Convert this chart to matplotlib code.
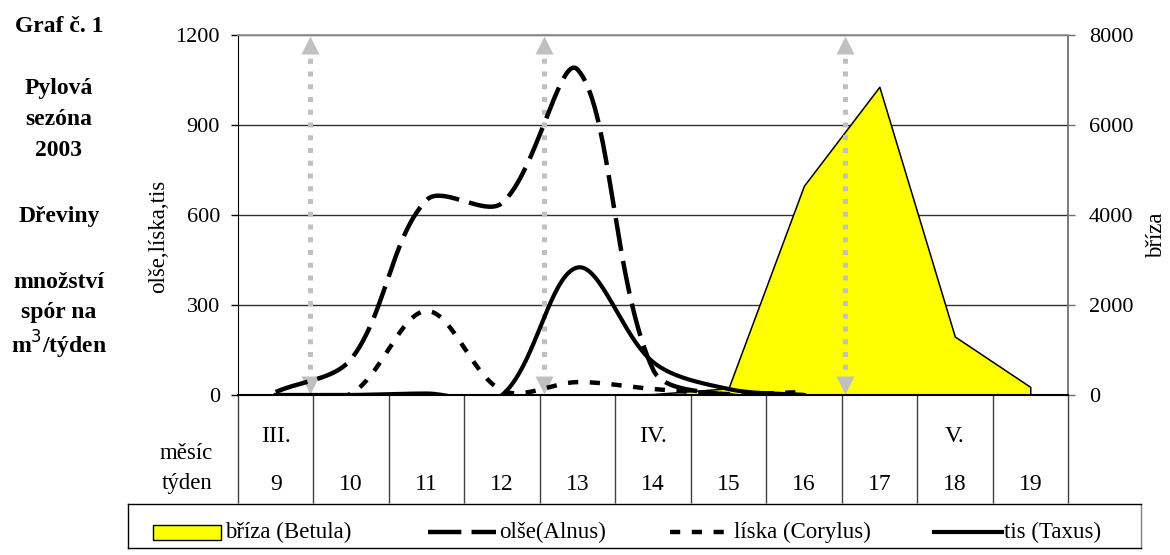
import numpy as np
import matplotlib
matplotlib.use("Agg")
import matplotlib.pyplot as plt
from matplotlib.patches import Rectangle
from matplotlib.lines import Line2D

plt.rcParams['font.family'] = ['Liberation Serif', 'DejaVu Serif']

# weekly pollen counts, weeks 9-19 of 2003
weeks = [9, 10, 11, 12, 13, 14, 15, 16, 17, 18, 19]
months = {0: "III.", 5: "IV.", 9: "V."}
briza = [0, 0, 0, 0, 0, 20, 150, 4650, 6850, 1300, 180]
olse = [10, 120, 650, 640, 1085, 85, 0, 0]
liska = [0, 5, 280, 15, 43, 20, 3, 10]
tis = [0, 0, 5, 0, 425, 110, 20, 0]
arrow_x = [0.45, 3.55, 7.55]

W, H = 1170, 555
fig = plt.figure(figsize=(W / 100, H / 100), dpi=100)

def fx(px):
    return px / W

def fy(py):
    return 1 - py / H

L, R, T, B = 238, 1068, 35, 395
ax2 = fig.add_axes([fx(L), fy(B), fx(R - L), (B - T) / H])
ax = ax2.twinx()
# lines on top of the yellow area
ax2.yaxis.tick_right()
ax.yaxis.tick_left()
ax.set_zorder(ax2.get_zorder() + 1)
ax.patch.set_visible(False)

n = len(weeks)
x = np.arange(n)
for a in (ax, ax2):
    a.set_xlim(-0.5, n - 0.5)
ax.set_ylim(0, 1200)
ax2.set_ylim(0, 8000)
ax.set_yticks(range(0, 1201, 300))
ax2.set_yticks(range(0, 8001, 2000))

# grid from the right axis so it stays under the area
ax2.set_axisbelow(True)
ax2.yaxis.grid(True, color='#303030', lw=1)
ax2.fill_between(x, briza, color='#ffff00', edgecolor='black', lw=1.1, zorder=2)


def smooth(xs, ys, a, n_seg=40):
    """Bezier smoothing of a polyline, control arms weighted by chord length."""
    pts = a.transData.transform(np.column_stack([xs, ys]))
    out = []
    m = len(pts)
    for i in range(m - 1):
        p0 = pts[i - 1] if i > 0 else pts[i]
        p1, p2 = pts[i], pts[i + 1]
        p3 = pts[i + 2] if i + 2 < m else pts[i + 1]
        d01 = np.hypot(*(p1 - p0))
        d12 = np.hypot(*(p2 - p1))
        d23 = np.hypot(*(p3 - p2))
        f1 = d12 / (d01 + d12) if d01 + d12 > 0 else 0.5
        f2 = d12 / (d12 + d23) if d12 + d23 > 0 else 0.5
        c1 = p1 + (p2 - p0) * f1 / 3
        c2 = p2 - (p3 - p1) * f2 / 3
        t = np.linspace(0, 1, n_seg)[:, None]
        seg = ((1 - t) ** 3 * p1 + 3 * (1 - t) ** 2 * t * c1
               + 3 * (1 - t) * t ** 2 * c2 + t ** 3 * p2)
        out.append(seg if i == 0 else seg[1:])
    out = np.vstack(out)
    return a.transData.inverted().transform(out).T


olse_style = dict(color='black', lw=3.2, ls=(0, (7.5, 2.3)), dash_capstyle='butt')
liska_style = dict(color='black', lw=3.2, ls=(0, (2.3, 2.6)), dash_capstyle='butt')
tis_style = dict(color='black', lw=3.0, ls='-')

# dotted double arrows
for xa in arrow_x:
    ax.plot([xa, xa], [45, 1150], color='#c0c0c0', lw=3.6,
            ls=(0, (1.0, 1.55)), dash_capstyle='butt', zorder=3)
    ax.plot([xa], [1168], marker='^', ms=13, color='#c0c0c0', mec='none', zorder=3)
    ax.plot([xa], [32], marker='v', ms=13, color='#c0c0c0', mec='none', zorder=3)

fig.canvas.draw()
for vals, st in ((olse, olse_style), (liska, liska_style), (tis, tis_style)):
    sx, sy = smooth(x[:len(vals)], vals, ax)
    ax.plot(sx, sy, zorder=4, **st)

# axes look
for a in (ax, ax2):
    for s in ('top', 'right', 'left', 'bottom'):
        a.spines[s].set_visible(False)
ax.spines['left'].set_visible(True)
ax.spines['left'].set_color('black')
ax.spines['right'].set_visible(True)
ax.spines['right'].set_color('#707070')
ax.spines['right'].set_linewidth(1.3)
ax.spines['top'].set_visible(True)
ax.spines['top'].set_color('#909090')
ax.spines['top'].set_linewidth(1.3)
ax.spines['bottom'].set_visible(True)
ax.spines['bottom'].set_color('black')
ax.spines['bottom'].set_linewidth(1.5)

ax.tick_params(axis='y', direction='out', length=5, width=1, labelsize=16, pad=8)
ax2.tick_params(axis='y', direction='out', length=5, width=1, labelsize=16, pad=10,
                color='#707070')
# category boundaries run down through the table
ax2.set_xticks(np.arange(-0.5, n, 1.0))
ax2.tick_params(axis='x', direction='out', length=78, width=1, labelbottom=False,
                color='#404040')

# table rows under the plot
trans = ax.get_xaxis_transform()
for i, w in enumerate(weeks):
    ax.text(i, (B - 490) / (B - T), str(w), transform=trans, ha='center',
            va='baseline', fontsize=17)
for i, m in months.items():
    ax.text(i, (B - 442) / (B - T), m, transform=trans, ha='center',
            va='baseline', fontsize=17)
fig.text(fx(213), fy(459), "měsíc", ha='right', va='baseline', fontsize=16.5)
fig.text(fx(213), fy(489), "týden", ha='right', va='baseline', fontsize=16.5)

fig.text(fx(159), fy(236), "olše,líska,tis", rotation=90, ha='center',
         va='center', fontsize=16.5)
fig.text(fx(1157), fy(235), "bříza", rotation=90, ha='center',
         va='center', fontsize=16.5)

# left side caption
caption = [("Graf č. 1", 32), ("Pylová", 94), ("sezóna", 125), ("2003", 156),
           ("Dřeviny", 222), ("množství", 288), ("spór na", 318),
           ("m$^{3}$/týden", 354)]
for txt, yb in caption:
    fig.text(fx(59), fy(yb), txt, ha='center', va='baseline', fontsize=17,
             fontweight='bold')

# legend box
lg = fig.add_axes([fx(128), fy(548), fx(1141 - 128), (548 - 504) / H])
lg.set_xlim(128, 1141)
lg.set_ylim(548, 504)
lg.set_xticks([])
lg.set_yticks([])
for s in lg.spines.values():
    s.set_color('black')
    s.set_linewidth(1)
lg.spines['right'].set_color('#808080')
ly = 532
lg.add_patch(Rectangle((153, 525), 68, 15, facecolor='#ffff00',
                       edgecolor='black', lw=1))
lg.text(225, ly, "bříza (Betula)", va='center', fontsize=16.5)
lg.add_line(Line2D([428, 496], [ly, ly], **olse_style))
lg.text(499, ly, "olše(Alnus)", va='center', fontsize=16.5)
lg.add_line(Line2D([670, 730], [ly, ly], **liska_style))
lg.text(734, ly, "líska (Corylus)", va='center', fontsize=16.5)
lg.add_line(Line2D([934, 1002], [ly, ly], **tis_style))
lg.text(1004, ly, "tis (Taxus)", va='center', fontsize=16.5)

fig.savefig("out.png", dpi=100)
